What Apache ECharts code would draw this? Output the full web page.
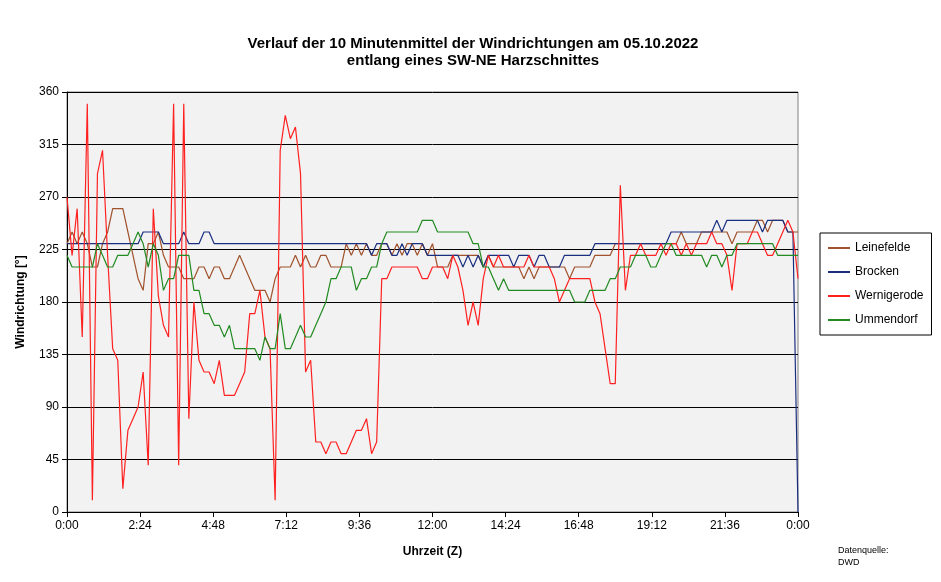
<!DOCTYPE html>
<html><head><meta charset="utf-8">
<script src="https://cdn.jsdelivr.net/npm/echarts@6/dist/echarts.min.js"></script>
<style>html,body{margin:0;padding:0;background:#fff}#c{width:941px;height:582px}</style>
</head><body><div id="c"></div>
<script>
const seriesNames = ['Leinefelde','Brocken','Wernigerode','Ummendorf'];
const stepMinutes = 10;
const yTicks = [0,45,90,135,180,225,270,315,360];
const leinefelde = [230,240,230,240,230,210,210,230,240,260,260,260,240,220,200,190,230,230,240,220,210,210,210,200,200,200,210,210,200,210,210,200,200,210,220,210,200,190,190,190,180,200,210,210,210,220,210,220,210,210,220,220,210,210,210,230,220,230,220,230,220,220,230,230,220,230,220,230,230,220,230,220,230,210,210,210,220,220,220,220,220,220,210,220,210,210,210,210,210,210,200,210,200,210,210,210,210,210,210,200,210,210,210,210,220,220,220,220,230,230,230,230,230,230,230,230,230,230,230,230,230,240,230,230,230,240,240,240,240,240,240,230,240,240,240,240,250,250,240,250,250,250,240,240,240];
const brocken = [230,230,230,230,230,230,230,230,230,230,230,230,230,230,230,240,240,240,240,230,230,230,230,240,230,230,230,240,240,230,230,230,230,230,230,230,230,230,230,230,230,230,230,230,230,230,230,230,230,230,230,230,230,230,230,230,230,230,230,230,220,230,230,230,220,220,230,220,230,230,230,220,220,220,220,220,220,220,210,220,210,220,210,220,220,220,220,220,210,220,220,220,210,220,220,210,210,210,220,220,220,220,220,220,230,230,230,230,230,230,230,230,230,230,230,230,230,230,230,240,240,240,240,240,240,240,240,240,250,240,250,250,250,250,250,250,250,240,250,250,250,250,240,240,0];
const wernigerode = [270,220,260,150,350,10,290,310,220,140,130,20,70,80,90,120,40,260,185,160,150,350,40,350,80,180,130,120,120,110,130,100,100,100,110,120,170,170,190,150,140,10,310,340,320,330,290,120,130,60,60,50,60,60,50,50,60,70,70,80,50,60,200,200,210,210,210,210,210,210,200,200,210,210,210,200,220,210,190,160,180,160,200,220,210,220,210,210,210,210,210,220,210,210,210,210,200,180,190,200,200,200,200,200,180,170,140,110,110,280,190,220,220,230,220,220,220,230,220,230,230,220,230,220,230,230,230,240,230,230,220,190,230,230,230,240,240,230,220,220,230,240,250,240,200];
const ummendorf = [220,210,210,210,210,210,230,220,210,210,220,220,220,230,240,230,210,230,220,190,200,200,220,220,220,190,190,170,170,160,160,150,160,140,140,140,140,140,130,150,140,140,170,140,140,150,160,150,150,160,170,180,200,200,210,210,210,190,200,200,210,210,230,240,240,240,240,240,240,240,250,250,250,240,240,240,240,240,240,240,230,230,210,210,200,190,200,190,190,190,190,190,190,190,190,190,190,190,190,190,180,180,180,190,190,190,190,200,200,210,210,210,220,220,220,210,210,220,230,230,220,220,220,220,220,220,210,220,220,210,220,220,230,230,230,230,230,230,230,230,220,220,220,220,220];
const colors = ['#a0522d','#1a2f80','#ff2020','#228b22'];
const data = [leinefelde, brocken, wernigerode, ummendorf];
function fmt(v){v=v%1440;const h=Math.floor(v/60),m=v%60;return h+':'+(m<10?'0':'')+m;}
const chart = echarts.init(document.getElementById('c'));
chart.setOption({
  animation:false,
  title:{text:'Verlauf der 10 Minutenmittel der Windrichtungen am 05.10.2022\nentlang eines SW-NE Harzschnittes',left:468,top:30,textAlign:'center',
    textStyle:{fontFamily:'Liberation Sans',fontSize:15,fontWeight:'bold',color:'#000',lineHeight:17}},
  graphic:[{type:'text',left:838,top:545,style:{text:'Datenquelle:\nDWD',font:'9px Liberation Sans',fill:'#000',lineHeight:12}}],
  legend:{orient:'vertical',left:820,top:233,data:seriesNames,itemWidth:22,itemHeight:2,icon:'rect',itemGap:10,
    padding:[8,8,8,8],borderColor:'#000',borderWidth:1,borderRadius:0,
    textStyle:{fontFamily:'Liberation Sans',fontSize:12,color:'#000',lineHeight:14}},
  grid:{left:67,right:143,top:92,bottom:70,show:true,backgroundColor:'#f2f2f2',borderColor:'#808080',borderWidth:1},
  xAxis:{type:'value',min:0,max:1440,interval:144,name:'Uhrzeit (Z)',nameLocation:'middle',nameGap:34,
    nameTextStyle:{fontFamily:'Liberation Sans',fontSize:12,fontWeight:'bold',color:'#000'},
    axisLine:{lineStyle:{color:'#000'}},axisTick:{show:true,length:5,lineStyle:{color:'#000'}},splitLine:{show:false},
    axisLabel:{formatter:fmt,color:'#000',fontFamily:'Liberation Sans',fontSize:12,margin:8}},
  yAxis:{type:'value',min:0,max:360,interval:45,name:'Windrichtung [°]',nameLocation:'middle',nameGap:40,
    nameTextStyle:{fontFamily:'Liberation Sans',fontSize:12,fontWeight:'bold',color:'#000'},
    axisLine:{show:true,lineStyle:{color:'#000'}},axisTick:{show:true,length:5,lineStyle:{color:'#000'}},
    splitLine:{lineStyle:{color:'#000',width:1}},
    axisLabel:{color:'#000',fontFamily:'Liberation Sans',fontSize:12,formatter:v=>yTicks.includes(v)?String(v):''}},
  series:seriesNames.map((n,k)=>({name:n,type:'line',showSymbol:false,symbol:'none',color:colors[k],
    lineStyle:{width:1.2,color:colors[k]},data:data[k].map((v,i)=>[i*stepMinutes,v])}))
});
</script></body></html>
